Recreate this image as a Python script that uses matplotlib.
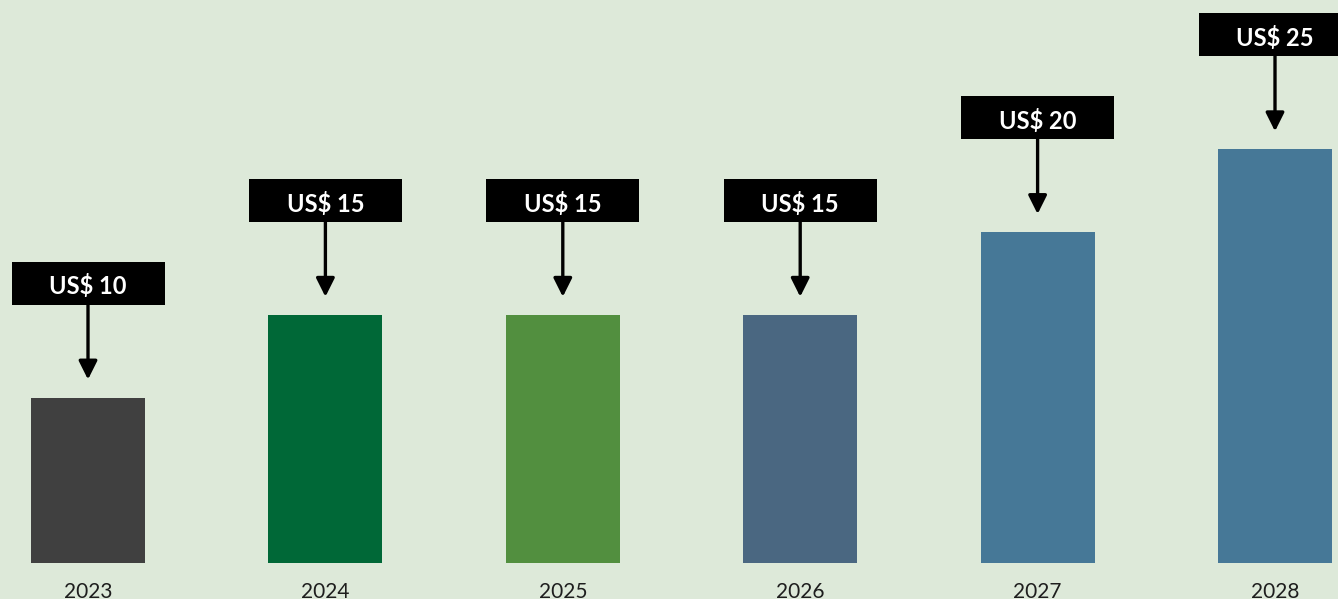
import matplotlib
matplotlib.use("Agg")
import matplotlib.pyplot as plt
from matplotlib.patches import Rectangle

# Data
years = ["2023", "2024", "2025", "2026", "2027", "2028"]
values = [10, 15, 15, 15, 20, 25]
labels = ["US$ 10", "US$ 15", "US$ 15", "US$ 15", "US$ 20", "US$ 25"]
bar_colors = ["#404040", "#006837", "#528f3f", "#4a6781", "#467897", "#467897"]

BG = "#dde9d9"
W, H, DPI = 1338, 599, 100

fig = plt.figure(figsize=(W / DPI, H / DPI), dpi=DPI, facecolor=BG)
base_px = 36            # baseline height above bottom edge (px)
px_per_unit = 16.55     # vertical scale (px per value unit)
ax = fig.add_axes([0, base_px / H, 1, 1 - base_px / H])
ax.set_facecolor(BG)

step_px = (1275 - 88) / 5
x = list(range(len(years)))
ax.set_xlim(-88 / step_px, 5 + (W - 1275) / step_px)
ax.set_ylim(0, (H - base_px) / px_per_unit)
ax.axis("off")

ax.bar(x, values, width=114 / step_px, color=bar_colors, zorder=2)

# label boxes with arrows pointing to the bars
box_w = 153 / step_px
box_h = 43 / px_per_unit
gap_box = 93 / px_per_unit
gap_tip = 18 / px_per_unit
for xi, v, lab in zip(x, values, labels):
    bottom = v + gap_box
    ax.add_patch(Rectangle((xi - box_w / 2, bottom), box_w, box_h,
                           facecolor="black", edgecolor="none", zorder=3,
                           clip_on=False))
    ax.text(xi, bottom + box_h / 2 - 3.5 / px_per_unit, lab, color="white",
            ha="center", va="center", fontsize=17, fontweight="bold",
            family="Lato", zorder=4)
    ax.annotate("", xy=(xi, v + gap_tip), xytext=(xi, bottom),
                arrowprops=dict(arrowstyle="-|>", color="black", lw=2.4,
                                mutation_scale=28, shrinkA=0, shrinkB=0),
                zorder=3)

# year labels below the bars
for xi, yr in zip(x, years):
    ax.text(xi, -19 / px_per_unit, yr, ha="center", va="top",
            fontsize=15, family="Lato", fontweight="normal", color="#1e1e1e",
            clip_on=False)

fig.savefig("out.png", dpi=DPI, facecolor=BG)
